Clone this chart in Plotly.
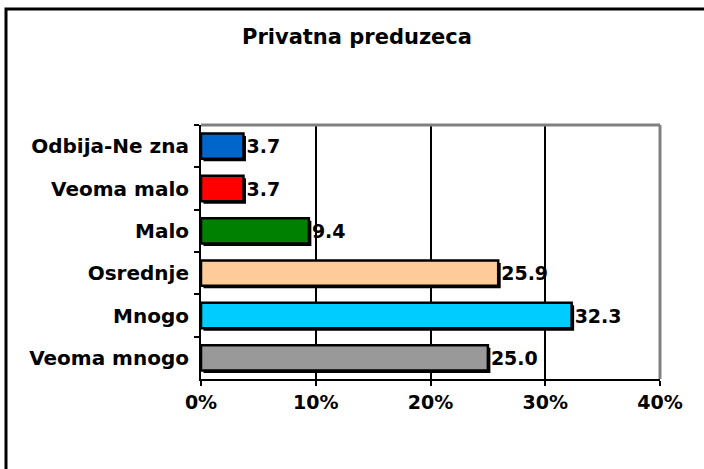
import plotly.graph_objects as go

categories = ["Odbija-Ne zna", "Veoma malo", "Malo", "Osrednje", "Mnogo", "Veoma mnogo"]
values = [3.7, 3.7, 9.4, 25.9, 32.3, 25.0]
colors = ["#0066CC", "#FF0000", "#008000", "#FFCC99", "#00CCFF", "#999999"]
x_ticks = [0, 10, 20, 30, 40]
x_tick_labels = ["0%", "10%", "20%", "30%", "40%"]
title_text = "Privatna preduzeca"

FONT = "Verdana, DejaVu Sans, sans-serif"

W, H = 704, 469
L, R, T, B = 201, 660, 125, 379
BAR_W = 0.6

x_per_px = 40 / (R - L)
cat_per_px = 1 / ((B - T) / len(categories))

fig = go.Figure()
# shadow behind each bar (same data, shifted by a couple of pixels)
fig.add_trace(go.Bar(
    y=categories, x=values, orientation="h",
    base=2.5 * x_per_px,
    offset=-BAR_W / 2 + 2.5 * cat_per_px, width=BAR_W,
    marker=dict(color="black", line=dict(width=0)),
    hoverinfo="skip",
))
fig.add_trace(go.Bar(
    y=categories, x=values, orientation="h",
    marker=dict(color=colors, line=dict(color="black", width=2.5)),
    offset=-BAR_W / 2, width=BAR_W,
    text=[f"{v:.1f}" for v in values],
    texttemplate="%{text}",
    textposition="outside",
    cliponaxis=False,
    textfont=dict(family=FONT, size=19, color="black", weight="bold"),
    hoverinfo="skip",
))

def px_x(p):
    return (p - L) / (R - L)

def px_y(p):
    return (B - p) / (B - T)

shapes = [
    # outer frame
    dict(type="rect", xref="paper", yref="paper",
         x0=px_x(6), x1=px_x(712), y0=px_y(480), y1=px_y(9),
         line=dict(color="black", width=3), layer="below"),
    # plot area top and right borders (gray)
    dict(type="line", xref="paper", yref="paper", x0=0, x1=1, y0=1, y1=1,
         line=dict(color="#808080", width=3)),
    dict(type="line", xref="paper", yref="paper", x0=1, x1=1, y0=0, y1=1,
         line=dict(color="#808080", width=3)),
]

fig.update_layout(
    width=W, height=H,
    margin=dict(l=L, r=W - R, t=T, b=H - B, pad=0),
    paper_bgcolor="white", plot_bgcolor="white",
    showlegend=False,
    barmode="overlay",
    title=dict(text=title_text, x=357 / W, xref="container", xanchor="center",
               y=1 - 37 / H, yanchor="middle",
               font=dict(family=FONT, size=21, color="black", weight="bold")),
    shapes=shapes,
    font=dict(family=FONT, color="black"),
)
fig.update_xaxes(
    range=[0, 40], tickvals=x_ticks, ticktext=x_tick_labels,
    showgrid=True, gridcolor="black", gridwidth=1.5,
    showline=True, linecolor="black", linewidth=2,
    ticks="outside", ticklen=5, tickcolor="black", tickwidth=2,
    tickfont=dict(family=FONT, size=19, color="black", weight="bold"),
    zeroline=False, fixedrange=True,
)
fig.update_yaxes(
    categoryorder="array", categoryarray=categories, autorange="reversed",
    showline=True, linecolor="black", linewidth=2,
    ticks="outside", ticklen=5, tickcolor="black", tickwidth=2,
    tickson="boundaries", ticklabelstandoff=6,
    tickfont=dict(family=FONT, size=20, color="black", weight="bold"),
    showgrid=False, fixedrange=True,
)

fig.write_html(
    "out.html",
    config={"displayModeBar": False},
    post_script="document.body.style.margin='0px';document.body.style.overflow='hidden';",
)
